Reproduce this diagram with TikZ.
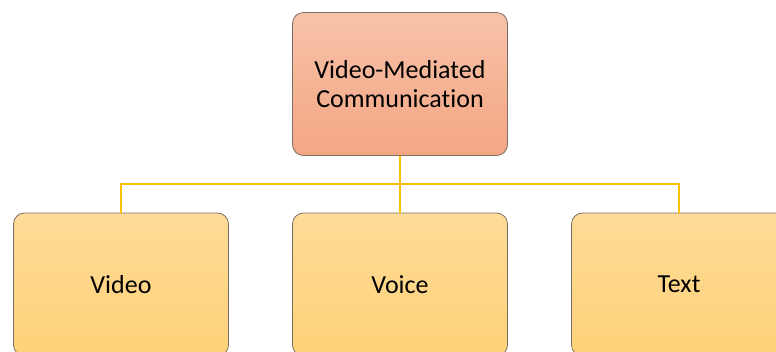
\documentclass[tikz,border=0pt]{standalone}
\usepackage{fontspec}
\setmainfont[Ligatures=NoCommon]{Carlito}
\definecolor{topA}{RGB}{247,194,170}
\definecolor{topB}{RGB}{244,166,130}
\definecolor{botA}{RGB}{254,219,152}
\definecolor{botB}{RGB}{255,210,120}
\definecolor{edgegray}{RGB}{125,110,100}
\definecolor{connyellow}{RGB}{255,192,0}
\tikzset{
  box/.style={draw=edgegray, line width=0.8pt, rounded corners=11pt, minimum width=215pt, minimum height=143pt, inner sep=0pt, align=center, font=\fontsize{26}{29}\selectfont},
  topbox/.style={box, top color=topA, bottom color=topB},
  botbox/.style={box, top color=botA, bottom color=botB},
  connline/.style={draw=connyellow, line width=2.2pt}
}
\begin{document}
\begin{tikzpicture}[x=1pt,y=-1pt]
\useasboundingbox (0,0) rectangle (776,351);
\clip (0,0) rectangle (776,351);
\node[topbox] (top) at (400,84) {Video-Mediated\\Communication};
\node[botbox] (video) at (121,284.5) {Video};
\node[botbox] (voice) at (400,284.5) {Voice};
\node[botbox] (text) at (679,284.5) {Text};
\coordinate (bus) at (400,184);
\draw[connline] (top.south) -- (voice.north);
\draw[connline] (video.north) |- (bus) -| (text.north);
\end{tikzpicture}
\end{document}
